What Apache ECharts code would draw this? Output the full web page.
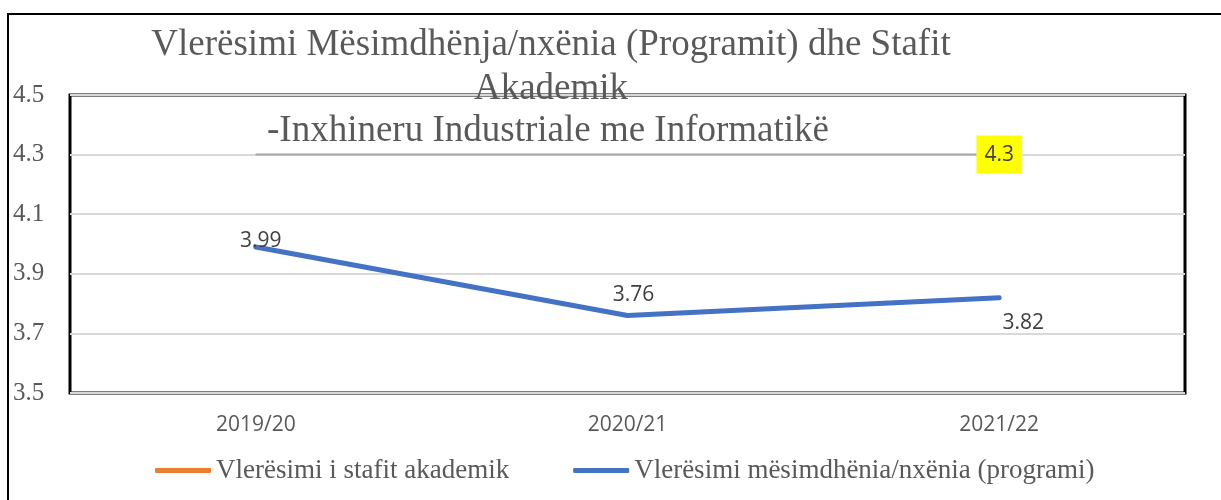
<!DOCTYPE html>
<html>
<head>
<meta charset="utf-8">
<script src="https://cdn.jsdelivr.net/npm/echarts@6/dist/echarts.min.js"></script>
<style>
  html, body { margin: 0; padding: 0; background: #fff; }
  #chart { width: 1221px; height: 500px; }
</style>
</head>
<body>
<div id="chart"></div>
<script>
// te dhenat
const years = ['2019/20', '2020/21', '2021/22'];
const stafi = [4.3, 4.3, 4.3];
const programi = [3.99, 3.76, 3.82];
const yTicks = { min: 3.5, max: 4.5, step: 0.2 };

const serif = '"Liberation Serif", "DejaVu Serif", serif';
const sans = '"Open Sans", "Noto Sans", sans-serif';

// pozicionet e etiketave per seciline pike
const progLabelPos = [
  { position: 'top', offset: [5, 6] },
  { position: 'top', offset: [6, -9] },
  { position: 'bottom', offset: [24, 14] }
];

const chart = echarts.init(document.getElementById('chart'));

const titleStyle = {
  fontFamily: serif,
  fontWeight: 'normal',
  fontSize: 37,
  color: '#595959',
  lineHeight: 44
};

const option = {
  animation: false,
  title: [
    {
      text: 'Vlerësimi Mësimdhënja/nxënia (Programit) dhe Stafit\nAkademik',
      left: 551,
      top: 23,
      padding: 0,
      textAlign: 'center',
      textStyle: titleStyle
    },
    {
      text: '-Inxhineru Industriale me Informatikë',
      left: 548,
      top: 109,
      padding: 0,
      textAlign: 'center',
      textStyle: titleStyle
    }
  ],
  graphic: [
    {
      type: 'rect',
      shape: { x: 8, y: 14, width: 1400, height: 700 },
      style: { fill: 'none', stroke: '#000', lineWidth: 2 },
      z: -1
    }
  ],
  legend: {
    left: 150,
    top: 452,
    itemWidth: 56,
    itemHeight: 5,
    itemGap: 64,
    icon: 'roundRect',
    textStyle: { fontFamily: serif, fontSize: 27, color: '#595959' },
    data: [
      { name: 'Vlerësimi i stafit akademik', itemStyle: { color: '#ed7d31', opacity: 1 } },
      { name: 'Vlerësimi mësimdhënia/nxënia (programi)', itemStyle: { color: '#4472c4', opacity: 1 } }
    ]
  },
  grid: {
    left: 70,
    right: 36,
    top: 95,
    bottom: 107,
    show: true,
    borderColor: '#000',
    borderWidth: 3,
    containLabel: false
  },
  xAxis: {
    type: 'category',
    data: years,
    axisLine: { show: false },
    axisTick: { show: false },
    axisLabel: {
      margin: 21,
      fontFamily: sans,
      fontSize: 21,
      lineHeight: 22,
      color: '#595959'
    }
  },
  yAxis: {
    type: 'value',
    min: yTicks.min,
    max: yTicks.max,
    interval: yTicks.step,
    axisLine: { show: false },
    axisTick: { show: false },
    splitLine: { lineStyle: { color: '#d9d9d9', width: 2 } },
    axisLabel: {
      align: 'left',
      margin: 57,
      fontFamily: serif,
      fontSize: 25,
      color: '#595959',
      formatter: v => v.toFixed(1)
    }
  },
  series: [
    {
      name: 'Vlerësimi i stafit akademik',
      type: 'line',
      data: stafi.map((v, i) => ({
        value: v,
        label: i === stafi.length - 1 ? {
          show: true,
          position: 'inside',
          backgroundColor: '#ffff00',
          padding: [8, 8, 8, 8],
          lineHeight: 22,
          fontFamily: sans,
          fontSize: 21,
          color: '#404040'
        } : { show: false }
      })),
      symbol: 'circle',
      symbolSize: 1,
      showSymbol: true,
      lineStyle: { color: '#a6a6a6', width: 2 },
      itemStyle: { color: '#a6a6a6' },
      z: 3
    },
    {
      name: 'Vlerësimi mësimdhënia/nxënia (programi)',
      type: 'line',
      data: programi.map((v, i) => ({
        value: v,
        label: Object.assign({ show: true, distance: 0 }, progLabelPos[i])
      })),
      symbol: 'circle',
      symbolSize: 1,
      showSymbol: true,
      itemStyle: { color: '#4472c4' },
      lineStyle: { color: '#4472c4', width: 5, cap: 'round' },
      label: {
        show: true,
        fontFamily: sans,
        fontSize: 21,
        lineHeight: 22,
        color: '#404040'
      },
      z: 4
    }
  ]
};

chart.setOption(option);
</script>
</body>
</html>
